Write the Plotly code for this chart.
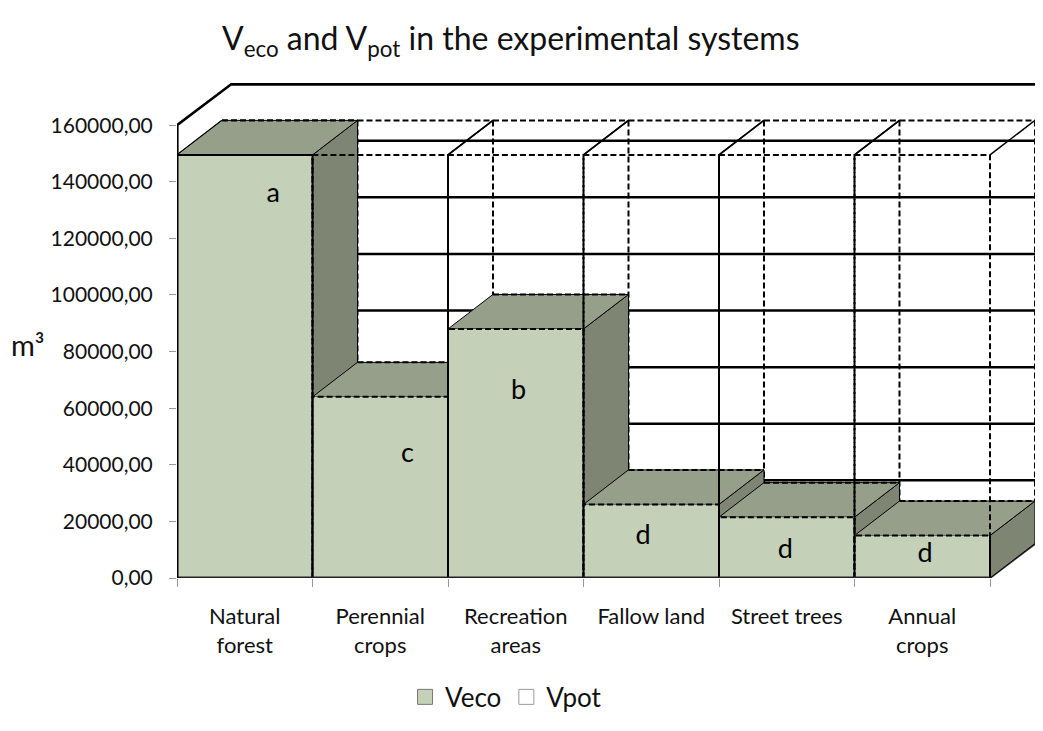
import plotly.graph_objects as go

categories = ["Natural<br>forest", "Perennial<br>crops", "Recreation<br>areas",
              "Fallow land", "Street trees", "Annual<br>crops"]
veco = [149500, 64000, 88000, 26000, 21500, 15000]
vpot = [149500, 149500, 149500, 149500, 149500, 149500]
letters = ["a", "c", "b", "d", "d", "d"]
y_ticks = [0, 20000, 40000, 60000, 80000, 100000, 120000, 140000, 160000]

# where the letters sit inside each bar (fraction across, value height)
label_x = [0.71, 0.70, 0.52, 0.44, 0.49, 0.52]
label_y = [135300, 43500, 65700, 14500, 9500, 8100]

FRONT = "#c4d0b7"
TOP = "#969f89"
SIDE = "#7f8573"
FONT = "Lato"

# depth of the boxes and of the walls, in axis units
BX, BY = 0.332, 12200
WX, WY = 0.40, 14500
DASH = "6px,3px"

fig = go.Figure()


def poly(xs, ys, fill, color="black", width=1, dash="solid"):
    fig.add_trace(go.Scatter(
        x=xs + [xs[0]], y=ys + [ys[0]], mode="lines", fill="toself",
        fillcolor=fill, line=dict(color=color, width=width, dash=dash),
        hoverinfo="skip", showlegend=False,
    ))


def line(xs, ys, color="black", width=1, dash="solid"):
    fig.add_trace(go.Scatter(
        x=xs, y=ys, mode="lines",
        line=dict(color=color, width=width, dash=dash),
        hoverinfo="skip", showlegend=False,
    ))


n = len(categories)
top = y_ticks[-1]

# back wall gridlines
for v in y_ticks:
    line([WX, n + WX], [v + WY, v + WY], width=2.5)

# left wall top edge and floor side edge
line([0, 0, WX, n + WX], [0, top, top + WY, top + WY], width=2.5)
line([n, n + WX], [0, WY], color="#333", width=2)

# hidden parts of Vpot boxes
for i, v in enumerate(vpot):
    line([i + BX, i + 1 + BX], [v + BY, v + BY], width=2, dash=DASH)
    line([i, i + BX], [v, v + BY], width=1.5)
    line([i + 1, i + 1 + BX], [v, v + BY], width=1.5)
    line([i + 1 + BX, i + 1 + BX], [v + BY, BY], width=2, dash=DASH)

# Veco boxes, left to right
for i, v in enumerate(veco):
    poly([i + 1, i + 1 + BX, i + 1 + BX, i + 1], [0, BY, v + BY, v], SIDE)
    poly([i, i + BX, i + 1 + BX, i + 1], [v, v + BY, v + BY, v], TOP)
    line([i + BX, i + 1 + BX], [v + BY, v + BY], width=2, dash=DASH)
    poly([i, i + 1, i + 1, i], [0, 0, v, v], FRONT, width=2, dash=DASH)

# Vpot front faces
for i, v in enumerate(vpot):
    line([i, i, i + 1, i + 1], [0, v, v, 0], width=2, dash=DASH)

# front axis lines
line([0, n], [0, 0], color="#222", width=3)
line([0, 0], [0, top], color="black", width=3)

fig.add_trace(go.Scatter(
    x=[i + label_x[i] for i in range(n)], y=label_y, mode="text",
    text=letters, textfont=dict(family=FONT, size=27, color="black"),
    hoverinfo="skip", showlegend=False,
))

# legend entries
fig.add_trace(go.Scatter(
    x=[None], y=[None], mode="markers", name="Veco",
    marker=dict(symbol="square", size=15, color=FRONT,
                line=dict(color="#777", width=1)),
))
fig.add_trace(go.Scatter(
    x=[None], y=[None], mode="markers", name="Vpot",
    marker=dict(symbol="square", size=15, color="white",
                line=dict(color="#999", width=1)),
))

# the page body adds 8px, so margins are set 8px short on the left/top
fig.update_layout(
    width=1043,
    height=731,
    margin=dict(l=169, r=0, t=62, b=161),
    paper_bgcolor="white",
    plot_bgcolor="white",
    separators=", ",
    font=dict(family=FONT, size=21, color="#111"),
    title=dict(
        text="V<sub>eco</sub> and V<sub>pot</sub> in the experimental systems",
        font=dict(family=FONT, size=32, color="#111"),
        xref="container", x=0.482, xanchor="center",
        yref="container", y=0.958, yanchor="middle",
    ),
    xaxis=dict(
        range=[0, 874 / 135.5],
        tickvals=[i + 0.5 for i in range(n)],
        ticktext=categories,
        tickfont=dict(size=22),
        ticks="",
        ticklabelstandoff=23,
        showgrid=False, zeroline=False, showline=False,
        automargin=False,
        minor=dict(tickvals=list(range(n + 1)), ticks="outside",
                   ticklen=8, tickcolor="#999", showgrid=False),
        fixedrange=True,
    ),
    yaxis=dict(
        range=[0, 179500],
        tickvals=y_ticks,
        tickformat=".2f",
        ticks="outside", ticklen=7, tickcolor="#999",
        ticklabelstandoff=12,
        showgrid=False, zeroline=False, showline=False,
        automargin=False,
        fixedrange=True,
    ),
    legend=dict(
        orientation="h",
        xref="container", x=0.4775, xanchor="center",
        yref="container", y=0.0575, yanchor="middle",
        font=dict(family=FONT, size=26),
    ),
    annotations=[dict(
        text="m³", xref="paper", yref="paper", x=-0.1705, y=0.4587,
        xanchor="center", yanchor="middle",
        showarrow=False, font=dict(family=FONT, size=29, color="#111"),
    )],
)

fig.write_html("out.html")
